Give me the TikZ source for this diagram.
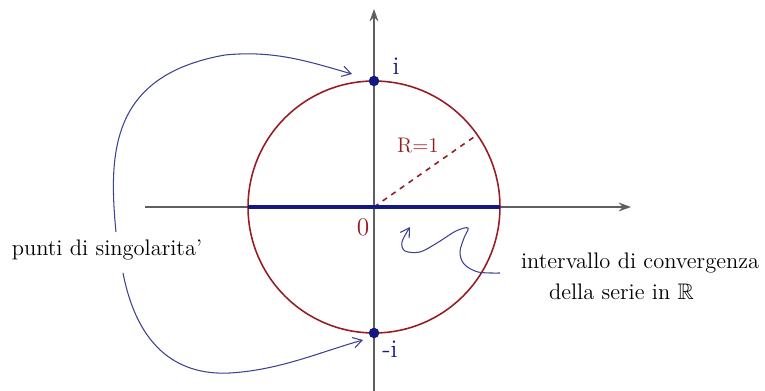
\documentclass[tikz,border=0pt]{standalone}
\usepackage{amsmath,amssymb}
\usepackage{tikz}
\usetikzlibrary{arrows.meta,positioning}
\definecolor{circred}{RGB}{150,30,35}
\definecolor{ptblue}{RGB}{20,25,130}
\definecolor{curveblue}{RGB}{60,65,145}
\definecolor{axisgray}{RGB}{95,95,95}
\tikzstyle{axis}=[-{Stealth[length=7pt,width=5pt]},draw=axisgray,line width=0.9pt]
\tikzstyle{curvearrow}=[-{Straight Barb[length=5pt,width=6pt]},draw=curveblue,line width=0.6pt]
\tikzstyle{singpt}=[circle,fill=ptblue,inner sep=0pt,minimum size=6pt]
\tikzstyle{lbl}=[font=\fontsize{12.8}{15}\selectfont,inner sep=1pt]
\tikzstyle{biglbl}=[font=\Large,inner sep=1pt]

\begin{document}
\begin{tikzpicture}[x=0.02cm,y=-0.02cm]
  \useasboundingbox (0,0) rectangle (765,391);
  \coordinate (O) at (374,207);
  \coordinate (xmin) at (145,207);
  \coordinate (xmax) at (631,207);
  \coordinate (ymin) at (374,391);
  \coordinate (ymax) at (374,9);

  % axes and unit circle
  \draw[axis] (xmin) -- (xmax);
  \draw[axis] (ymin) -- (ymax);
  \draw[circred,line width=0.9pt] (O) circle (2.52cm);
  \draw[circred,dashed,line width=0.9pt] (O) -- +(35:2.52cm);
  \node[font=\large,inner sep=1pt,text=circred] (rad) at (418,146) {R=1};

  % interval of convergence
  \coordinate (left) at (248,207);
  \coordinate (right) at (500,207);
  \draw[ptblue,line width=2pt] (left) -- (right);
  \node[biglbl,text=circred] (zero) at (363,227) {0};

  % singular points
  \node[singpt] (pI) at (374,81) {};
  \node[singpt] (mI) at (374,333) {};
  \node[biglbl,text=ptblue] (lI) at (396,66) {i};
  \node[biglbl,text=ptblue] (lmI) at (390,349) {-i};

  \node[lbl] (sing) at (107,250) {punti di singolarita'};
  \node[lbl,anchor=west] (conv) at (519,263) {intervallo di convergenza};
  \node[lbl,anchor=west] (serie) at (547,292) {della serie in $\mathbb{R}$};

  \coordinate (su) at (116,232);
  \coordinate (sd) at (123,273);
  \coordinate (tipI) at (352,74);
  \coordinate (tipmI) at (363,340);
  \coordinate (sq) at (500,273);
  \coordinate (tipO) at (410,227);

  \draw[curvearrow] (su) .. controls (108,150) and (112,75) .. (225,55)
    .. controls (275,50) and (310,62) .. (tipI);
  \draw[curvearrow] (sd) .. controls (140,360) and (190,375) .. (230,373)
    .. controls (280,370) and (320,352) .. (tipmI);
  \draw[curvearrow] plot[smooth,tension=0.55] coordinates {(sq) (478,272) (464,264)
    (460,252) (464,238) (468,228) (456,231) (437,243) (420,252) (405,251)
    (402,242) (tipO)};
\end{tikzpicture}
\end{document}
